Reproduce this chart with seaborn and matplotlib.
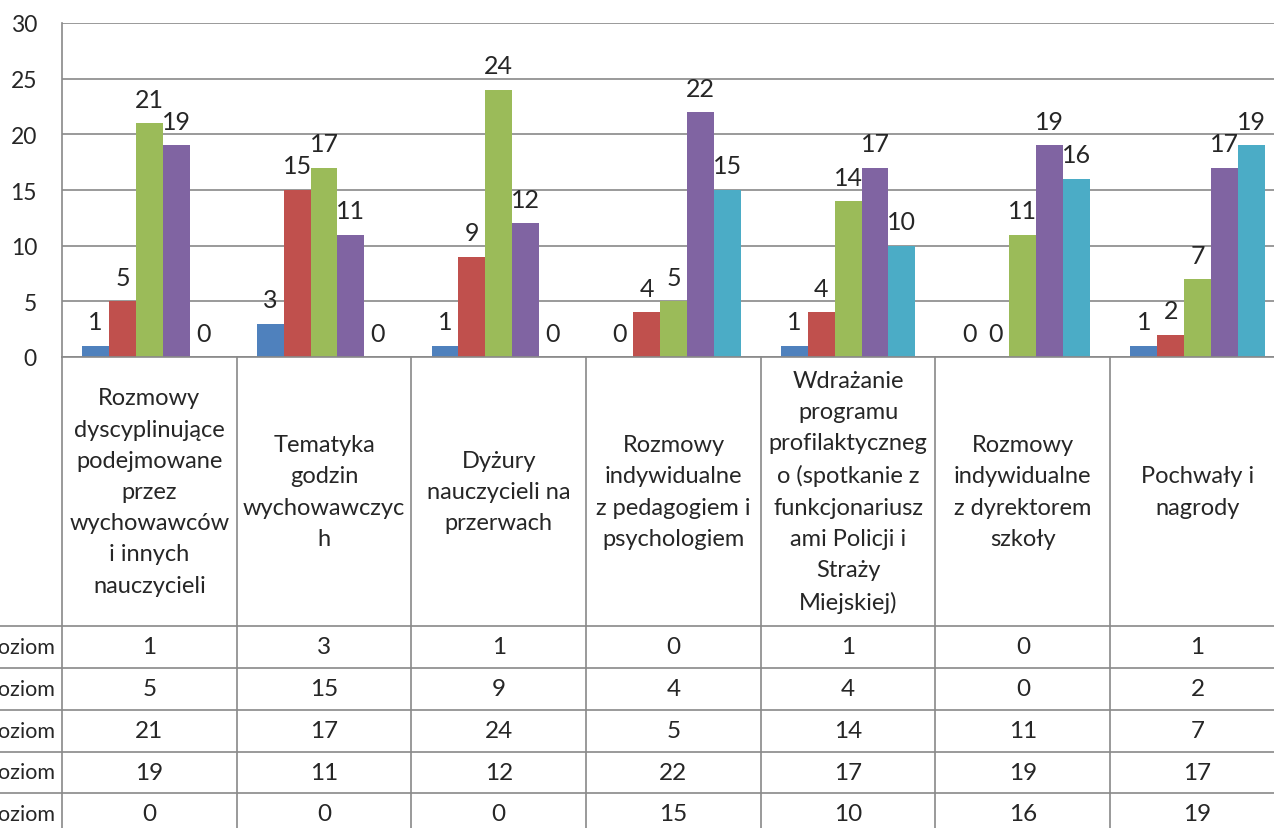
import pandas as pd
import matplotlib
matplotlib.use('Agg')
import matplotlib.pyplot as plt
import seaborn as sns

categories = [
    "Rozmowy\ndyscyplinujące\npodejmowane\nprzez\nwychowawców\ni innych\nnauczycieli",
    "Tematyka\ngodzin\nwychowawczyc\nh",
    "Dyżury\nnauczycieli na\nprzerwach",
    "Rozmowy\nindywidualne\nz pedagogiem i\npsychologiem",
    "Wdrażanie\nprogramu\nprofilaktyczneg\no (spotkanie z\nfunkcjonariusz\nami Policji i\nStraży\nMiejskiej)",
    "Rozmowy\nindywidualne\nz dyrektorem\nszkoły",
    "Pochwały i\nnagrody",
]
levels = ["1 poziom", "2 poziom", "3 poziom", "4 poziom", "5 poziom"]
poziom_1 = [1, 3, 1, 0, 1, 0, 1]
poziom_2 = [5, 15, 9, 4, 4, 0, 2]
poziom_3 = [21, 17, 24, 5, 14, 11, 7]
poziom_4 = [19, 11, 12, 22, 17, 19, 17]
poziom_5 = [0, 0, 0, 15, 10, 16, 19]
series = [poziom_1, poziom_2, poziom_3, poziom_4, poziom_5]
colors = ["#4F81BD", "#C0504D", "#9BBB59", "#8064A2", "#4BACC6"]

rows = []
for lev, vals in zip(levels, series):
    for cat, v in zip(categories, vals):
        rows.append({"kategoria": cat, "poziom": lev, "liczba": v})
df = pd.DataFrame(rows)

sns.set_style("white")
plt.rcParams["font.family"] = ["Lato", "DejaVu Sans"]
line_c = "#898989"

W_PX, H_PX = 1274, 829
left_px, top_px, base_px = 62, 24, 358
cat_w = 174.7

fig = plt.figure(figsize=(W_PX / 100, H_PX / 100), dpi=100)
ax = fig.add_axes([left_px / W_PX, 1 - base_px / H_PX,
                   7 * cat_w / W_PX, (base_px - top_px) / H_PX])

sns.barplot(data=df, x="kategoria", y="liczba", hue="poziom", order=categories,
            hue_order=levels, palette=colors, width=5 / 6.5, saturation=1,
            linewidth=0, legend=False, ax=ax)

for cont in ax.containers:
    ax.bar_label(cont, fmt="%g", padding=9, fontsize=18)

ax.set_xlim(-0.5, 6.5)
ax.set_ylim(0, 30)
ax.set_yticks(range(0, 31, 5))
ax.yaxis.grid(True, color=line_c, linewidth=1.2)
ax.set_axisbelow(True)
ax.set_xticks([])
ax.set_xlabel("")
ax.set_ylabel("")
ax.tick_params(axis="y", length=0, pad=18, labelsize=16.5)
for s in ["top", "right"]:
    ax.spines[s].set_visible(False)
for s in ["left", "bottom"]:
    ax.spines[s].set_color(line_c)
    ax.spines[s].set_linewidth(1.2)

# data table below the plot (pixel units on y)
axt = fig.add_axes([left_px / W_PX, 0, 7 * cat_w / W_PX, 1 - base_px / H_PX])
axt.set_xlim(-0.5, 6.5)
axt.set_ylim(H_PX, base_px)
axt.axis("off")


def xd(px):
    return -0.5 + (px - left_px) / cat_w


row_lines = [627, 669, 711, 753, 794, 836]
for i in range(8):
    axt.plot([i - 0.5, i - 0.5], [base_px, H_PX], color=line_c, lw=1.2, clip_on=False)
for y in row_lines:
    axt.plot([xd(0), 6.5], [y, y], color=line_c, lw=1.2, clip_on=False)

for i, cat in enumerate(categories):
    axt.text(i, (base_px + 627) / 2, cat, ha="center", va="center",
             multialignment="center", fontsize=17, linespacing=1.6)

for r, (lev, vals) in enumerate(zip(levels, series)):
    yc = (row_lines[r] + row_lines[r + 1]) / 2
    axt.text(xd(55), yc, lev, ha="right", va="center", fontsize=15.5, clip_on=False)
    for i, v in enumerate(vals):
        axt.text(i, yc, str(v), ha="center", va="center", fontsize=17.5)

fig.savefig("out.png", dpi=100)
